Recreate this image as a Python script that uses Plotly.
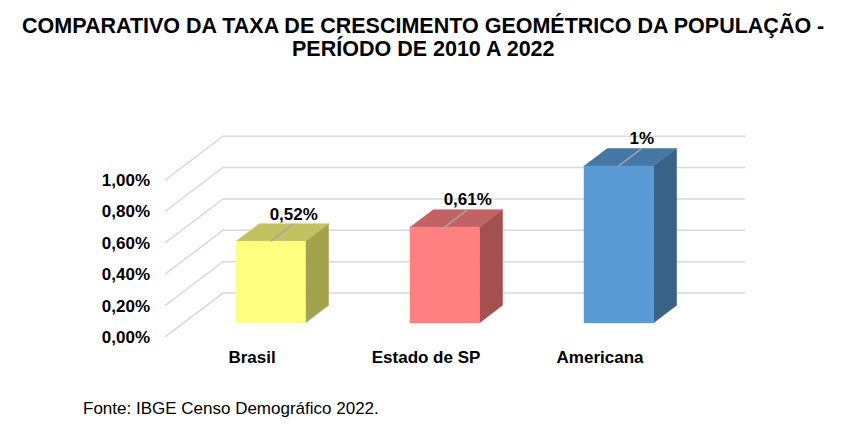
import plotly.graph_objects as go

# dados
categorias = ['Brasil', 'Estado de SP', 'Americana']
taxas = [0.52, 0.61, 1.0]
rotulos = ['0,52%', '0,61%', '1%']
ticks_y = [0.0, 0.2, 0.4, 0.6, 0.8, 1.0]
ticks_y_txt = ['0,00%', '0,20%', '0,40%', '0,60%', '0,80%', '1,00%']
titulo = ['COMPARATIVO DA TAXA DE CRESCIMENTO GEOMÉTRICO DA POPULAÇÃO -',
          'PERÍODO DE 2010 A 2022']
fonte = 'Fonte: IBGE Censo Demográfico 2022.'

frente = ['#FFFF80', '#FF8080', '#5B9BD5']
topo = ['#C2C262', '#C26262', '#4676A3']
lado = ['#A3A34F', '#A35050', '#3A6286']

# projecao obliqua: profundidade desloca x e y
DX = 0.333
DY = 0.28
D0, D1 = 0.32, 0.72   # profundidade da barra
W = 0.40              # largura da barra


def proj(x, y, d):
    return x + d * DX, y + d * DY


fig = go.Figure()

# grade: parede lateral (diagonais) e parede do fundo
for t in ticks_y:
    x0, y0 = proj(0, t, 0)
    x1, y1 = proj(0, t, 1)
    x2, y2 = proj(len(categorias), t, 1)
    fig.add_trace(go.Scatter(x=[x0, x1, x2], y=[y0, y1, y2], mode='lines',
                             line=dict(color='#D9D9D9', width=1.5),
                             hoverinfo='skip', showlegend=False))

for i, v in enumerate(taxas):
    c = i + 0.5
    xl, xr = c - W / 2, c + W / 2
    # lado direito
    pts = [proj(xr, 0, D0), proj(xr, 0, D1), proj(xr, v, D1), proj(xr, v, D0)]
    fig.add_trace(go.Scatter(x=[p[0] for p in pts], y=[p[1] for p in pts],
                             fill='toself', fillcolor=lado[i], mode='lines',
                             line=dict(color=lado[i], width=0.5),
                             hoverinfo='skip', showlegend=False))
    # topo
    pts = [proj(xl, v, D0), proj(xr, v, D0), proj(xr, v, D1), proj(xl, v, D1)]
    fig.add_trace(go.Scatter(x=[p[0] for p in pts], y=[p[1] for p in pts],
                             fill='toself', fillcolor=topo[i], mode='lines',
                             line=dict(color=topo[i], width=0.5),
                             hoverinfo='skip', showlegend=False))
    # frente
    pts = [proj(xl, 0, D0), proj(xr, 0, D0), proj(xr, v, D0), proj(xl, v, D0)]
    fig.add_trace(go.Scatter(x=[p[0] for p in pts], y=[p[1] for p in pts],
                             fill='toself', fillcolor=frente[i], mode='lines',
                             line=dict(color=frente[i], width=0.5),
                             hoverinfo='skip', showlegend=False))
    # linha de chamada + rotulo
    a = proj(c, v, D0)
    b = proj(c, v, D1)
    fig.add_trace(go.Scatter(x=[a[0], b[0]], y=[a[1], b[1]], mode='lines',
                             line=dict(color='#A6A6A6', width=1.5),
                             hoverinfo='skip', showlegend=False))
    fig.add_trace(go.Scatter(x=[b[0]], y=[b[1]], mode='text', text=[rotulos[i]],
                             textposition='top center',
                             textfont=dict(size=17, color='black',
                                           family='Liberation Sans, Arial', weight='bold'),
                             cliponaxis=False, hoverinfo='skip', showlegend=False))

fig.update_layout(
    width=846, height=435,
    paper_bgcolor='white', plot_bgcolor='white',
    margin=dict(l=165, r=101, t=133, b=98),
    font=dict(family='Liberation Sans, Arial', color='black'),
    xaxis=dict(range=[0, len(categorias) + DX], showgrid=False, zeroline=False,
               showline=False, tickvals=[i + 0.5 for i in range(len(categorias))],
               ticktext=categorias, ticklabelstandoff=8,
               tickfont=dict(size=17, weight='bold')),
    yaxis=dict(range=[0, 1.3], showgrid=False, zeroline=False, showline=False,
               tickvals=ticks_y, ticktext=ticks_y_txt, ticklabelstandoff=14,
               tickfont=dict(size=17, weight='bold')),
    annotations=[
        dict(text='<b>%s</b>' % titulo[0], xref='paper', yref='paper',
             x=0.445, y=1.529, xanchor='center', yanchor='middle',
             showarrow=False, font=dict(size=21.5, color='black')),
        dict(text='<b>%s</b>' % titulo[1], xref='paper', yref='paper',
             x=0.445, y=1.415, xanchor='center', yanchor='middle',
             showarrow=False, font=dict(size=21.5, color='black')),
        dict(text=fonte, xref='paper', yref='paper',
             x=-0.144, y=-0.35, xanchor='left', yanchor='middle',
             showarrow=False, font=dict(size=17, color='black')),
    ],
)

fig.write_html('out.html', config={'displayModeBar': False},
               post_script="document.body.style.margin='0';")
